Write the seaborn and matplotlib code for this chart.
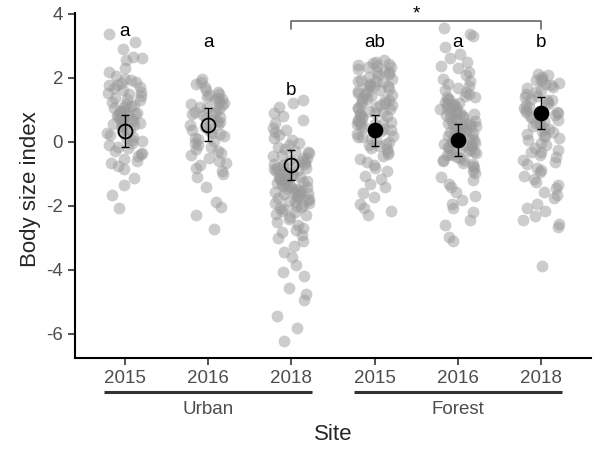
import numpy as np
import pandas as pd
import matplotlib.pyplot as plt
import seaborn as sns
from matplotlib.transforms import blended_transform_factory

# ── Data ──────────────────────────────────────────────────────────────────────

sites = ["Urban", "Urban", "Urban", "Forest", "Forest", "Forest"]
years = ["2015", "2016", "2018", "2015", "2016", "2018"]

urban_2015 = [3.38, 3.12, 2.92, 2.66, 2.62, 2.55, 2.32, 2.2, 2.05, 1.98, 1.93, 1.88,
              1.84, 1.79, 1.77, 1.71, 1.68, 1.63, 1.57, 1.52, 1.49, 1.44, 1.37, 1.33,
              1.31, 1.24, 1.19, 1.16, 1.11, 1.08, 1.05, 1.01, 0.98, 0.96, 0.93, 0.9,
              0.87, 0.84, 0.83, 0.8, 0.77, 0.75, 0.72, 0.71, 0.68, 0.65, 0.63, 0.6,
              0.57, 0.54, 0.5, 0.46, 0.41, 0.38, 0.33, 0.27, 0.22, 0.17, 0.12, 0.06,
              0.02, -0.04, -0.1, -0.15, -0.2, -0.27, -0.33, -0.39, -0.45, -0.52, -0.6,
              -0.66, -0.74, -0.83, -1.12, -1.35, -1.66, -2.05]
urban_2016 = [1.98, 1.86, 1.8, 1.72, 1.62, 1.55, 1.51, 1.46, 1.42, 1.37, 1.33, 1.3,
              1.26, 1.21, 1.18, 1.15, 1.1, 1.06, 1.02, 0.97, 0.94, 0.9, 0.86, 0.83,
              0.78, 0.74, 0.7, 0.65, 0.61, 0.56, 0.52, 0.47, 0.43, 0.38, 0.33, 0.29,
              0.24, 0.18, 0.12, 0.08, 0.02, -0.04, -0.1, -0.16, -0.22, -0.28, -0.35,
              -0.42, -0.5, -0.58, -0.66, -0.72, -0.81, -0.9, -1.0, -1.08, -1.4, -1.88,
              -2.02, -2.28, -2.72]
urban_2018 = [1.32, 1.22, 1.1, 0.92, 0.82, 0.7, 0.6, 0.45, 0.38, 0.3, 0.22, 0.12,
              0.05, -0.02, -0.1, -0.15, -0.21, -0.28, -0.3, -0.33, -0.4, -0.45, -0.5,
              -0.5, -0.55, -0.6, -0.62, -0.65, -0.68, -0.7, -0.72, -0.75, -0.8, -0.8,
              -0.85, -0.88, -0.9, -0.92, -0.96, -1.0, -1.0, -1.04, -1.08, -1.1, -1.12,
              -1.14, -1.15, -1.18, -1.2, -1.22, -1.25, -1.28, -1.3, -1.32, -1.36,
              -1.38, -1.4, -1.42, -1.46, -1.48, -1.5, -1.54, -1.55, -1.58, -1.6,
              -1.6, -1.64, -1.68, -1.7, -1.72, -1.75, -1.78, -1.8, -1.84, -1.88,
              -1.9, -1.92, -1.96, -2.0, -2.02, -2.05, -2.1, -2.15, -2.2, -2.25,
              -2.28, -2.35, -2.42, -2.5, -2.6, -2.68, -2.75, -2.82, -2.9, -3.0, -3.1,
              -3.25, -3.45, -3.6, -3.85, -4.05, -4.2, -4.55, -4.75, -4.95, -5.45,
              -5.8, -6.22]
forest_2015 = [2.55, 2.5, 2.47, 2.43, 2.4, 2.36, 2.33, 2.27, 2.22, 2.18, 2.13, 2.08,
               2.03, 1.98, 1.95, 1.91, 1.86, 1.82, 1.79, 1.74, 1.71, 1.66, 1.62, 1.59,
               1.54, 1.5, 1.47, 1.43, 1.38, 1.35, 1.3, 1.27, 1.22, 1.18, 1.15, 1.1,
               1.07, 1.02, 0.98, 0.95, 0.91, 0.86, 0.83, 0.78, 0.75, 0.7, 0.67, 0.62,
               0.58, 0.55, 0.5, 0.46, 0.41, 0.36, 0.3, 0.26, 0.2, 0.16, 0.1, 0.05,
               0.01, -0.06, -0.12, -0.18, -0.23, -0.3, -0.38, -0.45, -0.53, -0.62,
               -0.72, -0.8, -0.92, -1.05, -1.15, -1.3, -1.42, -1.6, -1.72, -1.95,
               -2.05, -2.16, -2.28, 2.2, 1.9, 1.6, 1.3, 1.05, 0.8, 0.55, 0.35, 0.15,
               -0.1, 2.35, 1.75, 1.15, 0.6]
forest_2016 = [3.55, 3.38, 3.3, 2.98, 2.75, 2.62, 2.5, 2.38, 2.3, 2.2, 2.1, 1.98,
               1.9, 1.82, 1.75, 1.68, 1.61, 1.55, 1.5, 1.45, 1.41, 1.35, 1.3, 1.26,
               1.22, 1.18, 1.14, 1.1, 1.06, 1.02, 0.98, 0.95, 0.92, 0.88, 0.84, 0.8,
               0.77, 0.74, 0.7, 0.67, 0.64, 0.6, 0.57, 0.54, 0.5, 0.47, 0.44, 0.4,
               0.37, 0.34, 0.3, 0.27, 0.24, 0.2, 0.17, 0.14, 0.1, 0.07, 0.04, 0.0,
               -0.03, -0.06, -0.1, -0.13, -0.16, -0.2, -0.23, -0.26, -0.3, -0.34,
               -0.38, -0.42, -0.46, -0.5, -0.55, -0.6, -0.65, -0.7, -0.76, -0.82,
               -0.9, -0.98, -1.08, -1.2, -1.3, -1.42, -1.55, -1.68, -1.8, -1.95,
               -2.05, -2.2, -2.45, -2.6, -2.98, -3.08, 1.2, 0.9, 0.6, 0.3, 0.05,
               -0.25, -0.55, 1.05, 0.75, 0.45, 0.15, -0.15, -0.4, 1.4, 0.5, -0.1]
forest_2018 = [2.12, 2.08, 2.02, 1.98, 1.95, 1.9, 1.85, 1.78, 1.72, 1.68, 1.62, 1.55,
               1.5, 1.45, 1.4, 1.35, 1.3, 1.25, 1.2, 1.15, 1.1, 1.05, 1.0, 0.95,
               0.9, 0.85, 0.8, 0.75, 0.7, 0.65, 0.6, 0.55, 0.5, 0.45, 0.4, 0.35,
               0.3, 0.25, 0.2, 0.12, 0.05, -0.02, -0.1, -0.18, -0.25, -0.32, -0.4,
               -0.48, -0.55, -0.62, -0.7, -0.8, -0.88, -0.95, -1.05, -1.15, -1.25,
               -1.35, -1.45, -1.55, -1.65, -1.75, -1.95, -2.05, -2.15, -2.3, -2.45,
               -2.55, -2.65, -3.88, 1.8, 1.3, 0.95, 0.6, 0.2, -0.3]

group_values = [urban_2015, urban_2016, urban_2018, forest_2015, forest_2016, forest_2018]

means   = [0.35, 0.52, -0.72, 0.37, 0.05, 0.90]
ci_low  = [-0.15, 0.02, -1.20, -0.12, -0.43, 0.40]
ci_high = [0.85, 1.05, -0.25, 0.85, 0.55, 1.40]
letters = ["a", "a", "b", "ab", "a", "b"]

# ── Long table ────────────────────────────────────────────────────────────────

order = [f"{s} {y}" for s, y in zip(sites, years)]
rows = []
for name, vals in zip(order, group_values):
    for v in vals:
        rows.append({"group": name, "value": v})
df = pd.DataFrame(rows)

# ── Plot ──────────────────────────────────────────────────────────────────────

sns.set_style("ticks")
plt.rcParams["font.family"] = ["Liberation Sans", "DejaVu Sans"]

fig = plt.figure(figsize=(6.11, 4.5), dpi=100)
ax = fig.add_axes([75 / 611, 1 - 358 / 450, 516 / 611, 345 / 450])

np.random.seed(7)
sns.stripplot(data=df, x="group", y="value", order=order, color="#9a9a9a",
              alpha=0.5, size=8.5, jitter=0.22, linewidth=0, ax=ax, zorder=1)

xpos = np.arange(len(order))
m = np.array(means)
yerr = [m - np.array(ci_low), np.array(ci_high) - m]
ax.errorbar(xpos, m, yerr=yerr, fmt="none", ecolor="black", elinewidth=1,
            capsize=3, capthick=1, zorder=3)
for x, y, s in zip(xpos, means, sites):
    face = "none" if s == "Urban" else "black"
    ax.plot(x, y, "o", ms=10, mfc=face, mec="black", mew=1.3, zorder=4)

# significance letters
letter_y = [3.44, 3.12, 1.62, 3.12, 3.10, 3.10]
for x, y, t in zip(xpos, letter_y, letters):
    ax.text(x, y, t, ha="center", va="center", fontsize=13.5, color="black")

# bracket 2018 urban vs 2018 forest
bx0, bx1, by, bdrop = 2, 5, 3.78, 0.25
ax.plot([bx0, bx0, bx1, bx1], [by - bdrop, by, by, by - bdrop],
        color="#666666", lw=1.2, clip_on=False, zorder=2)
ax.text((bx0 + bx1) / 2, 4.0, "*", ha="center", va="center", fontsize=13.5,
        color="black", clip_on=False)

ax.set_xlim(-0.6, 5.6)
ax.set_ylim(-6.75, 4.03)
ax.set_yticks([4, 2, 0, -2, -4, -6])
ax.set_yticklabels(["4", "2", "0", "-2", "-4", "-6"])
ax.set_xticks(xpos)
ax.set_xticklabels(years)
ax.tick_params(axis="both", labelsize=13.5, labelcolor="#4d4d4d", color="#333333",
               length=5, width=1.2)
for side in ["left", "bottom"]:
    ax.spines[side].set_linewidth(1.5)
    ax.spines[side].set_color("black")
sns.despine(ax=ax)

# site group lines and names under the year labels
trans = blended_transform_factory(ax.transData, ax.transAxes)
for i0, name in [(0, "Urban"), (3, "Forest")]:
    ax.plot([i0 - 0.25, i0 + 2.25], [-0.099, -0.099], color="#333333", lw=2.2,
            transform=trans, clip_on=False, solid_capstyle="butt")
    ax.text(i0 + 1, -0.148, name, transform=trans, ha="center", va="center",
            fontsize=13.5, color="#4d4d4d")

ax.set_xlabel("Site", fontsize=16)
ax.xaxis.set_label_coords(0.5, -0.19)
ax.set_ylabel("Body size index", fontsize=16)
ax.yaxis.set_label_coords(-0.065, 0.49)

plt.savefig("out.png", dpi=100)
